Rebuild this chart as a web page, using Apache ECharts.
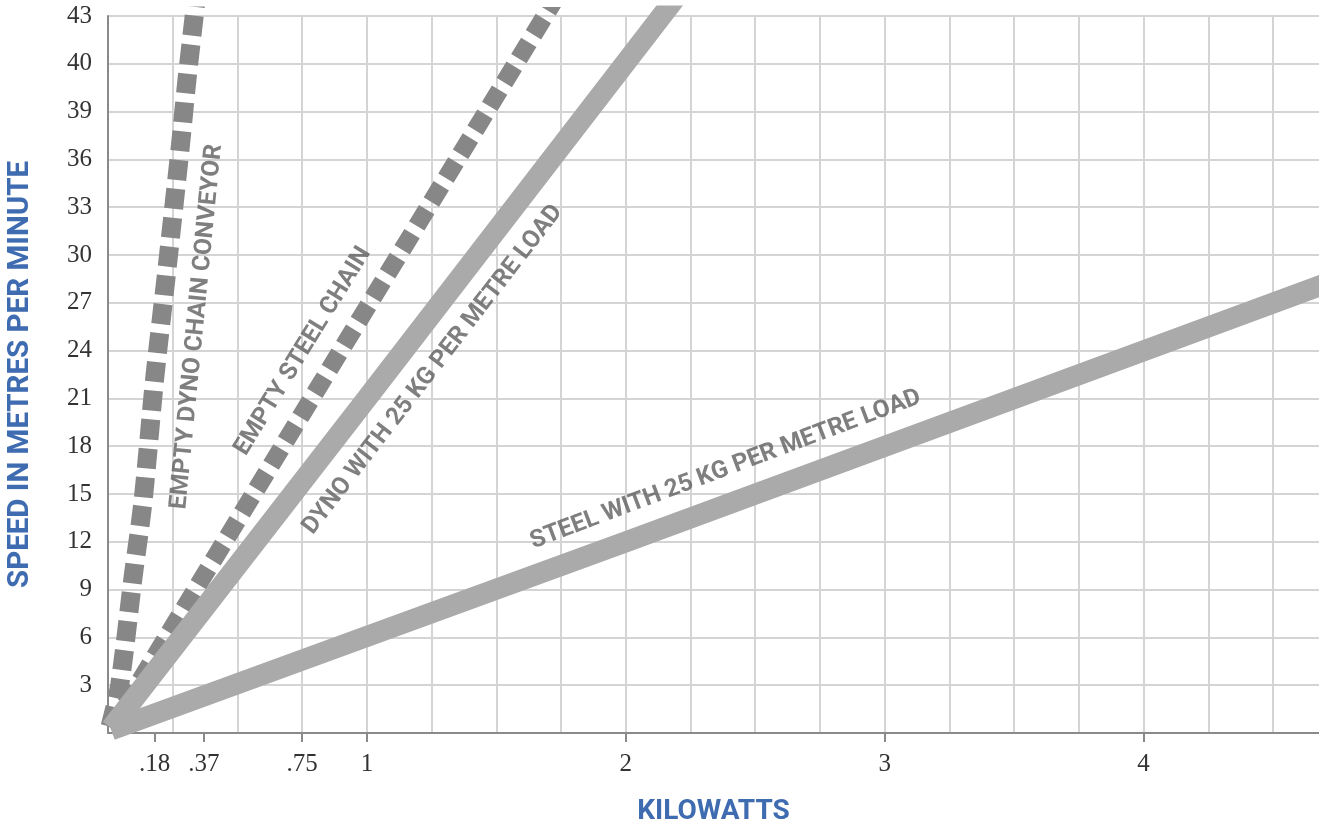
<!DOCTYPE html>
<html>
<head>
<meta charset="utf-8">
<script src="https://cdn.jsdelivr.net/npm/echarts@6/dist/echarts.min.js"></script>
<style>
html,body{margin:0;padding:0;background:#fff;overflow:hidden;}
#chart{width:1330px;height:825px;}
</style>
</head>
<body>
<div id="chart"></div>
<script>
// ---- data ----
const xTickValues = [0.18, 0.37, 0.75, 1, 2, 3, 4];
const xTickLabels = ['.18', '.37', '.75', '1', '2', '3', '4'];
const yTickValues = [3, 6, 9, 12, 15, 18, 21, 24, 27, 30, 33, 36, 39, 42, 45];
const yTickLabels = ['3', '6', '9', '12', '15', '18', '21', '24', '27', '30', '33', '36', '39', '40', '43'];

const seriesNames = ['EMPTY DYNO CHAIN CONVEYOR', 'EMPTY STEEL CHAIN', 'DYNO WITH 25 KG PER METRE LOAD', 'STEEL WITH 25 KG PER METRE LOAD'];
const emptyDyno = [[0.008, 0.4], [0.045, 3], [0.097, 9.8], [0.135, 14.5], [0.18, 22.2], [0.225, 28.7], [0.278, 36.6], [0.305, 41], [0.34, 46]];
const emptySteel = [[0.012, 0.3], [1.0, 26.7], [1.74, 46.4]];
const dynoLoad = [[0.012, 0.3], [1.0, 21.0], [2.2, 46.3]];
const steelLoad = [[0.012, 0.2], [2.0, 12.0], [4.72, 28.3]];

// label anchor points (data coords) and angles
const labelPos = [[0.344, 25.5], [0.753, 23.95], [1.255, 22.8], [2.386, 16.53]];
const labelAngle = [84.4, 58.5, 52.3, 20.6];

const TITLE_FONT = "Roboto, 'DejaVu Sans', sans-serif";
const TICK_FONT = "'Liberation Serif', 'DejaVu Serif', serif";
const dashedColor = '#878787';
const solidColor = '#aaaaaa';

const chart = echarts.init(document.getElementById('chart'));

function lookup(vals, labels, v) {
  for (let i = 0; i < vals.length; i++) {
    if (Math.abs(vals[i] - v) < 1e-6) return labels[i];
  }
  return '';
}

const option = {
  animation: false,
  backgroundColor: '#ffffff',
  grid: { left: 108, top: 16, right: 0, bottom: 92, containLabel: false, outerBoundsMode: 'none' },
  xAxis: [
    {
      type: 'value', min: 0, max: 4.72, interval: 0.25, position: 'bottom',
      axisLine: { show: true, lineStyle: { color: '#8a8a8a', width: 2 } },
      axisTick: { show: false },
      axisLabel: { show: false },
      splitLine: { show: true, lineStyle: { color: '#d4d4d4', width: 2 } },
      name: 'KILOWATTS', nameLocation: 'middle', nameGap: 65,
      nameTextStyle: { fontFamily: TITLE_FONT, fontWeight: 'bold', fontSize: 28, color: '#3f6bb0', verticalAlign: 'top', padding: [0, 11, 0, 0] }
    },
    {
      type: 'value', min: 0, max: 4.72, position: 'bottom',
      axisLine: { show: false },
      axisTick: { show: true, customValues: xTickValues, length: 9, lineStyle: { color: '#8a8a8a', width: 2 } },
      axisLabel: {
        show: true, customValues: xTickValues, margin: 19,
        fontFamily: TICK_FONT, fontSize: 25, color: '#333',
        formatter: v => lookup(xTickValues, xTickLabels, v)
      },
      splitLine: { show: false }
    }
  ],
  yAxis: {
    type: 'value', min: 0, max: 45, interval: 3,
    axisLine: { show: true, lineStyle: { color: '#8a8a8a', width: 2 } },
    axisTick: { show: false },
    axisLabel: {
      margin: 16, fontFamily: TICK_FONT, fontSize: 25, color: '#333',
      formatter: v => lookup(yTickValues, yTickLabels, v)
    },
    splitLine: { show: true, lineStyle: { color: '#d4d4d4', width: 2 } },
    name: 'SPEED IN METRES PER MINUTE', nameLocation: 'middle', nameRotate: 90, nameGap: 72,
    nameTextStyle: { fontFamily: TITLE_FONT, fontWeight: 'bold', fontSize: 29.5, color: '#3f6bb0' }
  },
  series: [
    {
      name: seriesNames[3], type: 'line', data: steelLoad, symbol: 'none', z: 2,
      lineStyle: { color: solidColor, width: 21, cap: 'butt' }
    },
    {
      name: seriesNames[2], type: 'line', data: dynoLoad, symbol: 'none', z: 3,
      lineStyle: { color: solidColor, width: 21, cap: 'butt' }
    },
    {
      name: seriesNames[1], type: 'line', data: emptySteel, symbol: 'none', z: 2,
      lineStyle: { color: dashedColor, width: 18, type: [19, 9], cap: 'butt' }
    },
    {
      name: seriesNames[0], type: 'line', data: emptyDyno, symbol: 'none', smooth: 0.3, z: 2,
      lineStyle: { color: dashedColor, width: 19, type: [20, 9], cap: 'butt' }
    },
    {
      type: 'scatter', symbolSize: 0, z: 5, silent: true,
      data: labelPos.map((p, i) => ({
        value: p,
        label: {
          show: true, position: 'inside', rotate: labelAngle[i],
          formatter: seriesNames[i],
          fontFamily: TITLE_FONT, fontWeight: 'bold', fontSize: 24.5, color: '#5f5f5f'
        }
      }))
    }
  ]
};
chart.setOption(option);
</script>
</body>
</html>
